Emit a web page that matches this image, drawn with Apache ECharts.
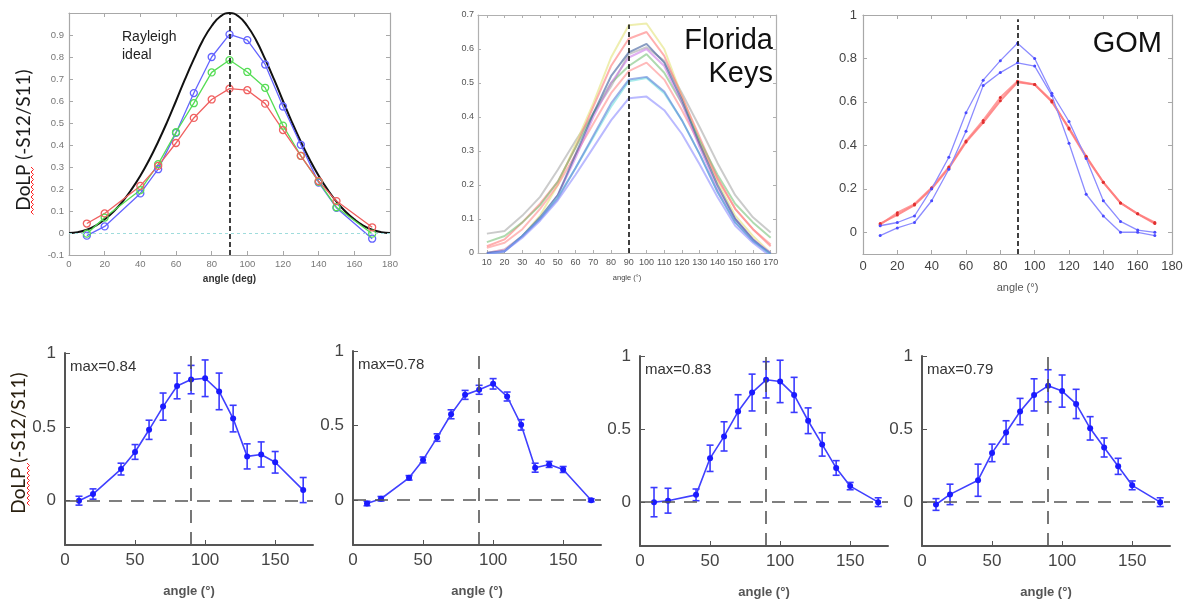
<!DOCTYPE html>
<html><head><meta charset="utf-8">
<script src="https://cdn.jsdelivr.net/npm/echarts@6/dist/echarts.min.js"></script>
<style>html,body{margin:0;padding:0;background:#fff}#c{width:1188px;height:600px}</style>
</head><body><div id="c"></div>
<script>
// ---------- DATA ----------
// Top-left panel (Rayleigh comparison)
const tlAngles = [10,20,40,50,60,70,80,90,100,110,120,130,140,150,170];
const tlBlue  = [-0.012,0.03,0.18,0.29,0.455,0.636,0.80,0.903,0.877,0.766,0.575,0.401,0.229,0.114,-0.026];
const tlGreen = [-0.003,0.07,0.195,0.313,0.458,0.59,0.73,0.786,0.732,0.66,0.488,0.351,0.233,0.117,-0.003];
const tlRed   = [0.043,0.089,0.214,0.305,0.409,0.523,0.607,0.656,0.649,0.588,0.468,0.351,0.236,0.145,0.026];
const rayAngles = [0,5,10,15,20,25,30,35,40,45,50,55,60,65,70,75,80,85,90,95,100,105,110,115,120,125,130,135,140,145,150,155,160,165,170,175,180];
const rayVals   = [0,0.004,0.015,0.034,0.062,0.098,0.143,0.197,0.26,0.333,0.415,0.504,0.6,0.698,0.79,0.875,0.941,0.985,1,0.985,0.941,0.875,0.79,0.698,0.6,0.504,0.415,0.333,0.26,0.197,0.143,0.098,0.062,0.034,0.015,0.004,0];

// Florida Keys panel
const fkAngles = [10,20,30,40,50,60,70,80,90,100,110,120,130,140,150,160,170];
const fkGray   = [0.057,0.065,0.11,0.165,0.245,0.33,0.41,0.49,0.585,0.605,0.565,0.47,0.37,0.265,0.17,0.105,0.06];
const fkYellow = [0.0,0.01,0.05,0.11,0.2,0.32,0.44,0.575,0.67,0.675,0.60,0.46,0.33,0.21,0.11,0.05,0.0];
const fkRed1   = [0.02,0.04,0.09,0.145,0.21,0.31,0.43,0.55,0.63,0.65,0.58,0.46,0.34,0.22,0.13,0.07,0.02];
const fkNavy   = [0.0,0.005,0.05,0.105,0.17,0.29,0.41,0.52,0.59,0.615,0.56,0.45,0.32,0.2,0.1,0.04,-0.005];
const fkPurple = [0.0,0.01,0.05,0.1,0.17,0.28,0.40,0.50,0.575,0.60,0.55,0.44,0.31,0.19,0.1,0.04,0.0];
const fkGreen  = [0.032,0.05,0.09,0.14,0.21,0.31,0.41,0.50,0.55,0.585,0.53,0.44,0.33,0.23,0.145,0.09,0.045];
const fkRed2   = [0.015,0.03,0.07,0.13,0.2,0.29,0.38,0.47,0.535,0.56,0.51,0.42,0.32,0.22,0.13,0.07,0.025];
const fkCyan   = [-0.005,0.005,0.05,0.1,0.165,0.25,0.34,0.43,0.505,0.515,0.47,0.39,0.29,0.18,0.09,0.035,-0.005];
const fkBlue   = [0.0,0.005,0.05,0.1,0.16,0.25,0.345,0.44,0.51,0.518,0.475,0.39,0.29,0.18,0.09,0.035,0.0];
const fkLtBlue = [-0.005,0.005,0.045,0.095,0.155,0.23,0.31,0.39,0.455,0.46,0.42,0.35,0.26,0.165,0.08,0.03,-0.01];

// GOM panel
const gomAngles = [10,20,30,40,50,60,70,80,90,100,110,120,130,140,150,160,170];
const gomBlueA = [0.03,0.045,0.075,0.2,0.345,0.55,0.70,0.79,0.87,0.80,0.64,0.51,0.34,0.145,0.05,0.01,0.0];
const gomBlueB = [-0.015,0.02,0.045,0.145,0.29,0.465,0.675,0.735,0.78,0.765,0.63,0.41,0.175,0.075,0.0,0.0,-0.015];
const gomRed1  = [0.04,0.08,0.125,0.2,0.295,0.415,0.505,0.605,0.69,0.68,0.60,0.48,0.35,0.23,0.135,0.085,0.04];
const gomRed2  = [0.035,0.09,0.13,0.205,0.3,0.42,0.515,0.62,0.695,0.68,0.605,0.475,0.345,0.23,0.135,0.085,0.045];

// Bottom panels (mean +/- error)
const bAngles = [10,20,40,50,60,70,80,90,100,110,120,130,140,150,170];
const b1Vals = [0.0,0.045,0.214,0.33,0.48,0.637,0.777,0.82,0.829,0.74,0.556,0.30,0.313,0.26,0.072];
const b1Err  = [0.03,0.035,0.04,0.05,0.065,0.092,0.087,0.096,0.124,0.124,0.09,0.085,0.085,0.073,0.085];
const b2Vals = [-0.022,0.01,0.15,0.27,0.42,0.576,0.706,0.74,0.78,0.695,0.505,0.218,0.24,0.206,0.0];
const b2Err  = [0.015,0.015,0.015,0.02,0.025,0.03,0.03,0.03,0.035,0.03,0.035,0.03,0.02,0.02,0.01];
const b3Vals = [0.0,0.01,0.05,0.30,0.45,0.62,0.75,0.837,0.826,0.734,0.557,0.395,0.234,0.11,0.0];
const b3Err  = [0.1,0.085,0.04,0.09,0.1,0.115,0.126,0.124,0.145,0.12,0.088,0.08,0.05,0.025,0.03];
const b4Vals = [-0.016,0.053,0.15,0.337,0.477,0.62,0.734,0.796,0.76,0.672,0.505,0.374,0.245,0.115,0.0];
const b4Err  = [0.04,0.07,0.11,0.06,0.08,0.09,0.11,0.11,0.11,0.1,0.08,0.065,0.055,0.03,0.03];
const bMaxText = ['max=0.84','max=0.78','max=0.83','max=0.79'];

// Axis tick labels
const tlXTicks = [0,20,40,60,80,100,120,140,160,180];
const fkXTicks = [10,20,30,40,50,60,70,80,90,100,110,120,130,140,150,160,170];
const gomYTicks = [0,0.2,0.4,0.6,0.8,1];
const bYTicks = [0,0.5,1];
const bXTicks = [0,50,100,150];

// ---------- BUILD ----------
const FONT = '"Liberation Sans", Arial, sans-serif';
const zip = (a, b) => a.map((v, i) => [v, b[i]]);
const grids = [], xAxes = [], yAxes = [], series = [];

function panel(g, o) {
  const gi = grids.length;
  grids.push(Object.assign({containLabel:false}, g));
  const xi = xAxes.length, yi = yAxes.length;
  xAxes.push({
    type:'value', gridIndex:gi, min:o.x.min, max:o.x.max, interval:o.x.interval, position:'bottom',
    axisLine:{show:true, onZero:false, lineStyle:{color:o.lc, width:o.lw}},
    axisTick:{show:true, inside:true, length:o.tl, lineStyle:{color:o.lc, width:1}, customValues:o.x.cv},
    axisLabel:{show:true, color:o.tc, fontSize:o.fs, fontFamily:FONT, margin:o.x.m, customValues:o.x.cv},
    splitLine:{show:false},
    name:o.x.name, nameLocation:'middle', nameGap:o.x.ng, nameTextStyle:o.x.nts
  });
  yAxes.push({
    type:'value', gridIndex:gi, min:o.y.min, max:o.y.max, interval:o.y.interval, position:'left',
    axisLine:{show:true, onZero:false, lineStyle:{color:o.lc, width:o.lw}},
    axisTick:{show:true, inside:true, length:o.tl, lineStyle:{color:o.lc, width:1}, customValues:o.y.cv},
    axisLabel:{show:true, color:o.tc, fontSize:o.fs, fontFamily:FONT, margin:o.y.m, customValues:o.y.cv,
               showMaxLabel:o.y.showMax !== false},
    splitLine:{show:false}
  });
  if (o.box) {
    xAxes.push({
      type:'value', gridIndex:gi, min:o.x.min, max:o.x.max, interval:o.x.interval, position:'top',
      axisLine:{show:true, onZero:false, lineStyle:{color:o.lc, width:o.lw}},
      axisTick:{show:true, inside:true, length:o.tl, lineStyle:{color:o.lc, width:1}, customValues:o.x.cv},
      axisLabel:{show:false}, splitLine:{show:false}
    });
    yAxes.push({
      type:'value', gridIndex:gi, min:o.y.min, max:o.y.max, interval:o.y.interval, position:'right',
      axisLine:{show:true, onZero:false, lineStyle:{color:o.lc, width:o.lw}},
      axisTick:{show:true, inside:true, length:o.tl, lineStyle:{color:o.lc, width:1}, customValues:o.y.cv},
      axisLabel:{show:false}, splitLine:{show:false}
    });
  }
  return {xi, yi};
}

// Top-left
const TL = panel({left:69, top:13, width:321, height:242}, {
  lc:'#a8a8a8', lw:1.2, tl:4, tc:'#777', fs:9.5, box:true,
  x:{min:0, max:180, cv:tlXTicks, m:4, name:'angle (deg)', ng:19,
     nts:{fontSize:10, fontWeight:'bold', color:'#333', fontFamily:FONT}},
  y:{min:-0.1, max:1, interval:0.1, m:5, showMax:false}
});
series.push({type:'line', xAxisIndex:TL.xi, yAxisIndex:TL.yi, data:zip(rayAngles, rayVals), smooth:true,
  showSymbol:false, symbol:'none', lineStyle:{color:'#111', width:2}, z:3,
  markLine:{symbol:'none', silent:true, label:{show:false},
    data:[
      {xAxis:90, lineStyle:{color:'#111', type:[5,3], width:1.6}},
      {yAxis:0, lineStyle:{color:'#9fdcdc', type:[3,3], width:1}}
    ]}});
[[tlBlue,'#6464ff'],[tlGreen,'#55dd55'],[tlRed,'#f06060']].forEach(([d,c]) => {
  series.push({type:'line', xAxisIndex:TL.xi, yAxisIndex:TL.yi, data:zip(tlAngles, d),
    symbol:'circle', symbolSize:7, lineStyle:{color:c, width:1.3},
    itemStyle:{color:'rgba(255,255,255,0)', borderColor:c, borderWidth:1.3}, z:4});
});

// Florida Keys
const FK = panel({left:478, top:15, width:298, height:238}, {
  lc:'#b0b0b0', lw:1.2, tl:3, tc:'#555', fs:9, box:true,
  x:{min:5, max:173, cv:fkXTicks, m:5, name:'angle (°)', ng:21,
     nts:{fontSize:7.5, color:'#444', fontFamily:FONT}},
  y:{min:0, max:0.7, interval:0.1, m:4}
});
const fkLines = [
  [fkGray,'#a8a8a8'],[fkYellow,'#e2e27a'],[fkRed1,'#ff7a7a'],[fkGreen,'#7ac27a'],[fkRed2,'#ff8c8c'],
  [fkPurple,'#cc7ae8'],[fkNavy,'#3a5a9a'],[fkCyan,'#70dede'],[fkBlue,'#5a80d8'],[fkLtBlue,'#8c8cff']
];
fkLines.forEach(([d,c], i) => {
  const s = {type:'line', xAxisIndex:FK.xi, yAxisIndex:FK.yi, data:zip(fkAngles, d),
    symbol:'none', lineStyle:{color:c, width:2, opacity:0.6}};
  if (i === 0) s.markLine = {symbol:'none', silent:true, label:{show:false},
    lineStyle:{color:'#111', type:[5,3], width:1.6},
    data:[[{coord:[90,0]},{coord:[90,0.672]}]]};
  series.push(s);
});

// GOM
const GM = panel({left:863, top:15, width:309, height:239}, {
  lc:'#a8a8a8', lw:1.2, tl:4, tc:'#444', fs:13, box:true,
  x:{min:0, max:180, interval:20, m:6, name:'angle (°)', ng:28,
     nts:{fontSize:11, color:'#555', fontFamily:FONT}},
  y:{min:-0.1, max:1, cv:gomYTicks, m:6}
});
[[gomRed1,'#ff6a6a'],[gomRed2,'#ff7a7a']].forEach(([d,c], i) => {
  const s = {type:'line', xAxisIndex:GM.xi, yAxisIndex:GM.yi, data:zip(gomAngles, d),
    symbol:'circle', symbolSize:3, lineStyle:{color:c, width:2, opacity:0.75},
    itemStyle:{color:'#e03030'}};
  if (i === 0) s.markLine = {symbol:'none', silent:true, label:{show:false},
    lineStyle:{color:'#111', type:[5,3], width:1.6},
    data:[[{coord:[90,-0.1]},{coord:[90,0.98]}]]};
  series.push(s);
});
[gomBlueA, gomBlueB].forEach(d => {
  series.push({type:'line', xAxisIndex:GM.xi, yAxisIndex:GM.yi, data:zip(gomAngles, d),
    symbol:'circle', symbolSize:3, lineStyle:{color:'#8c8cff', width:1.3},
    itemStyle:{color:'#4a4aff'}});
});

// Bottom panels
function errRender(params, api) {
  const x = api.value(0), y = api.value(1), e = api.value(2);
  const pt = api.coord([x, y + e]), pb = api.coord([x, y - e]);
  const cw = 3.5;
  const st = {stroke:'#3a3aff', lineWidth:1.6, fill:null};
  return {type:'group', children:[
    {type:'line', shape:{x1:pt[0], y1:pt[1], x2:pb[0], y2:pb[1]}, style:st},
    {type:'line', shape:{x1:pt[0]-cw, y1:pt[1], x2:pt[0]+cw, y2:pt[1]}, style:st},
    {type:'line', shape:{x1:pb[0]-cw, y1:pb[1], x2:pb[0]+cw, y2:pb[1]}, style:st}
  ]};
}
const bGrids = [
  {left:65, top:353, width:248, height:192},
  {left:353, top:351, width:248, height:194},
  {left:640, top:356, width:248, height:190},
  {left:922, top:356, width:248, height:190}
];
const bData = [[b1Vals,b1Err],[b2Vals,b2Err],[b3Vals,b3Err],[b4Vals,b4Err]];
const titles = [];
bGrids.forEach((g, k) => {
  const P = panel(g, {
    lc:'#555', lw:2, tl:5, tc:'#444', fs:17, box:false,
    x:{min:0, max:177, cv:bXTicks, m:7, name:'angle (°)', ng:40,
       nts:{fontSize:13, fontWeight:'bold', color:'#555', fontFamily:FONT}},
    y:{min:-0.3, max:1, cv:bYTicks, m:9}
  });
  const [v, e] = bData[k];
  series.push({type:'line', xAxisIndex:P.xi, yAxisIndex:P.yi, data:zip(bAngles, v),
    symbol:'circle', symbolSize:6, lineStyle:{color:'#4040ff', width:1.6},
    itemStyle:{color:'#1a1aff'}, z:4,
    markLine:{symbol:'none', silent:true, label:{show:false},
      lineStyle:{color:'#555', type:[13,9], width:1.6},
      data:[{xAxis:90},{yAxis:0}]}});
  series.push({type:'custom', xAxisIndex:P.xi, yAxisIndex:P.yi, renderItem:errRender,
    data:bAngles.map((a, i) => [a, v[i], e[i]]), encode:{x:0, y:1}, z:3});
  titles.push({text:bMaxText[k], left:g.left + 5, top:g.top + 6, padding:0,
    textStyle:{fontSize:15, fontWeight:'normal', color:'#333', fontFamily:FONT}});
});

// squiggle decoration helper
function squiggle(x, y0, y1) {
  const pts = [];
  let i = 0;
  for (let y = y0; y <= y1; y += 2.5, i++) pts.push([x + (i % 2 ? 2.5 : 0), y]);
  return {type:'polyline', shape:{points:pts}, style:{stroke:'#ff2020', lineWidth:1, fill:null}};
}

const graphic = [
  {type:'text', x:24, y:140, rotation:Math.PI/2,
   style:{text:'DoLP (-S12/S11)', font:'19px Lato, "Open Sans", sans-serif', fill:'#1a1a1a', align:'center', verticalAlign:'middle'}},
  squiggle(31, 167, 216),
  {type:'text', x:19, y:443, rotation:Math.PI/2,
   style:{text:'DoLP (-S12/S11)', font:'19px Lato, "Open Sans", sans-serif', fill:'#2a2010', align:'center', verticalAlign:'middle'}},
  squiggle(27, 463, 507),
  {type:'text', x:122, y:28, style:{text:'Rayleigh\nideal', font:'14px ' + FONT, fill:'#222', lineHeight:18, align:'left', verticalAlign:'top'}},
  {type:'text', x:773, y:24, style:{text:'Florida\nKeys', font:'29px ' + FONT, fill:'#111', lineHeight:33, align:'right', verticalAlign:'top'}},
  {type:'text', x:1162, y:29, style:{text:'GOM', font:'29px ' + FONT, fill:'#111', align:'right', verticalAlign:'top'}}
];

const chart = echarts.init(document.getElementById('c'), null, {renderer:'canvas'});
chart.setOption({
  animation:false, backgroundColor:'#fff',
  title:titles, grid:grids, xAxis:xAxes, yAxis:yAxes, series:series, graphic:graphic
});
</script></body></html>
